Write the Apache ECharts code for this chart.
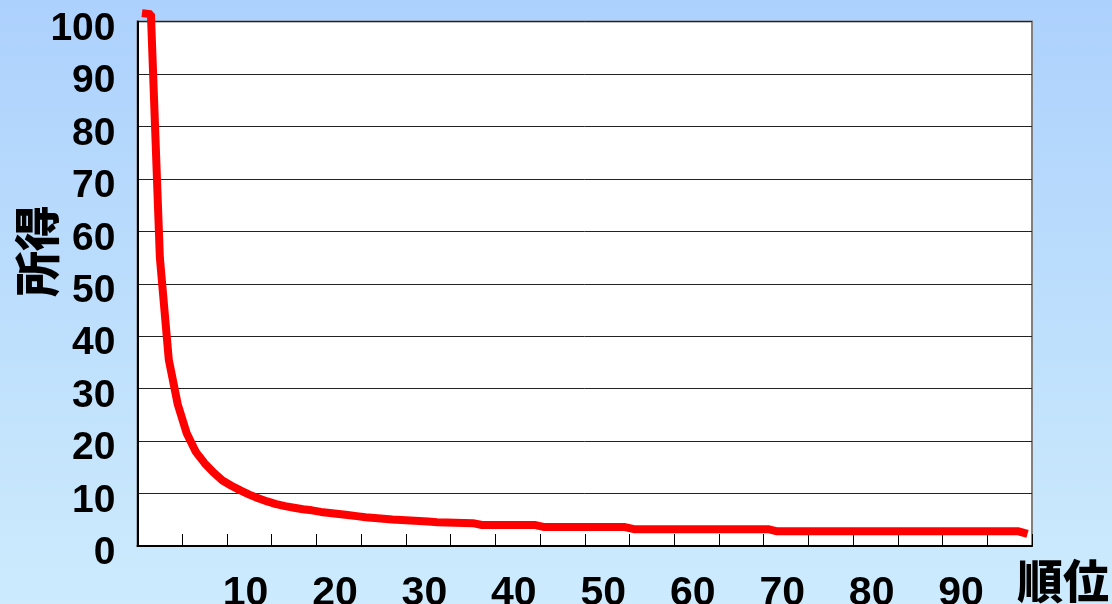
<!DOCTYPE html>
<html><head><meta charset="utf-8">
<script src="https://cdn.jsdelivr.net/npm/echarts@6/dist/echarts.min.js"></script>
<style>html,body{margin:0;padding:0;background:#fff;} #c{width:1112px;height:604px;}</style>
</head><body><div id="c"></div>
<script>
// ranks 1..100 (category axis)
const ranks = Array.from({length: 100}, (_, i) => String(i + 1));
// income by rank
const incomeValues = [
  101.6, 101.4, 55.0, 35.5, 27.0, 21.5, 18.0, 15.8, 14.0, 12.5,
  11.5, 10.6, 9.8, 9.1, 8.5, 8.0, 7.6, 7.3, 7.0, 6.8,
  6.5, 6.3, 6.1, 5.9, 5.7, 5.5, 5.35, 5.2, 5.05, 4.95,
  4.85, 4.75, 4.65, 4.55, 4.5, 4.45, 4.4, 4.35, 4.0, 4.0,
  4.0, 4.0, 4.0, 4.0, 4.0, 3.6, 3.6, 3.6, 3.6, 3.6,
  3.6, 3.6, 3.6, 3.6, 3.6, 3.2, 3.2, 3.2, 3.2, 3.2,
  3.2, 3.2, 3.2, 3.2, 3.2, 3.2, 3.2, 3.2, 3.2, 3.2,
  3.2, 2.8, 2.8, 2.8, 2.8, 2.8, 2.8, 2.8, 2.8, 2.8,
  2.8, 2.8, 2.8, 2.8, 2.8, 2.8, 2.8, 2.8, 2.8, 2.8,
  2.8, 2.8, 2.8, 2.8, 2.8, 2.8, 2.8, 2.8, 2.8, 2.3
];
const xTickLabels = ['10','20','30','40','50','60','70','80','90'];
const yTicks = [0,10,20,30,40,50,60,70,80,90,100];
const yAxisTitle = '所得';
const xAxisTitle = '順位';

const numFont = "'Liberation Sans',Arial,sans-serif";
const cjkFont = "'Noto Sans CJK JP','Noto Sans CJK SC',sans-serif";

const chart = echarts.init(document.getElementById('c'), null, {renderer: 'canvas'});
chart.setOption({
  animation: false,
  backgroundColor: {
    type: 'linear', x: 0, y: 0, x2: 0, y2: 1,
    colorStops: [{offset: 0, color: '#acd1fc'}, {offset: 1, color: '#cdebfd'}]
  },
  grid: {
    left: 137.5, right: 80, top: 21.5, bottom: 58,
    outerBoundsMode: 'none', containLabel: false,
    show: true, backgroundColor: '#ffffff', borderColor: '#808080', borderWidth: 2
  },
  xAxis: {
    type: 'category',
    data: ranks,
    boundaryGap: true,
    axisLine: {lineStyle: {color: '#000', width: 2}},
    axisTick: {show: true, inside: true, length: 12, interval: 4, lineStyle: {color: '#000', width: 1}},
    axisLabel: {
      interval: (idx, val) => xTickLabels.includes(val),
      fontFamily: numFont, fontWeight: 'bold', fontSize: 41, color: '#000',
      margin: 27, padding: [0, 0, 0, 46]
    },
    splitLine: {show: false}
  },
  yAxis: {
    type: 'value',
    min: yTicks[0], max: yTicks[yTicks.length - 1], interval: 10,
    axisLine: {show: true, lineStyle: {color: '#000', width: 2}},
    axisTick: {show: false},
    axisLabel: {
      fontFamily: numFont, fontWeight: 'bold', fontSize: 39, color: '#000',
      margin: 22, verticalAlign: 'top', lineHeight: 15
    },
    splitLine: {show: true, lineStyle: {color: '#222', width: 1}}
  },
  graphic: [
    {type: 'text', x: 37, y: 251, rotation: Math.PI / 2,
     style: {text: yAxisTitle, font: "900 46px " + cjkFont, fill: '#000', align: 'center', verticalAlign: 'middle'}},
    {type: 'text', x: 1063, y: 581,
     style: {text: xAxisTitle, font: "900 46px " + cjkFont, fill: '#000', align: 'center', verticalAlign: 'middle'}}
  ],
  series: [{
    type: 'line',
    data: incomeValues,
    clip: false,
    showSymbol: false,
    symbol: 'none',
    lineStyle: {color: '#ff0000', width: 8},
    z: 5
  }]
});
</script>
</body></html>
